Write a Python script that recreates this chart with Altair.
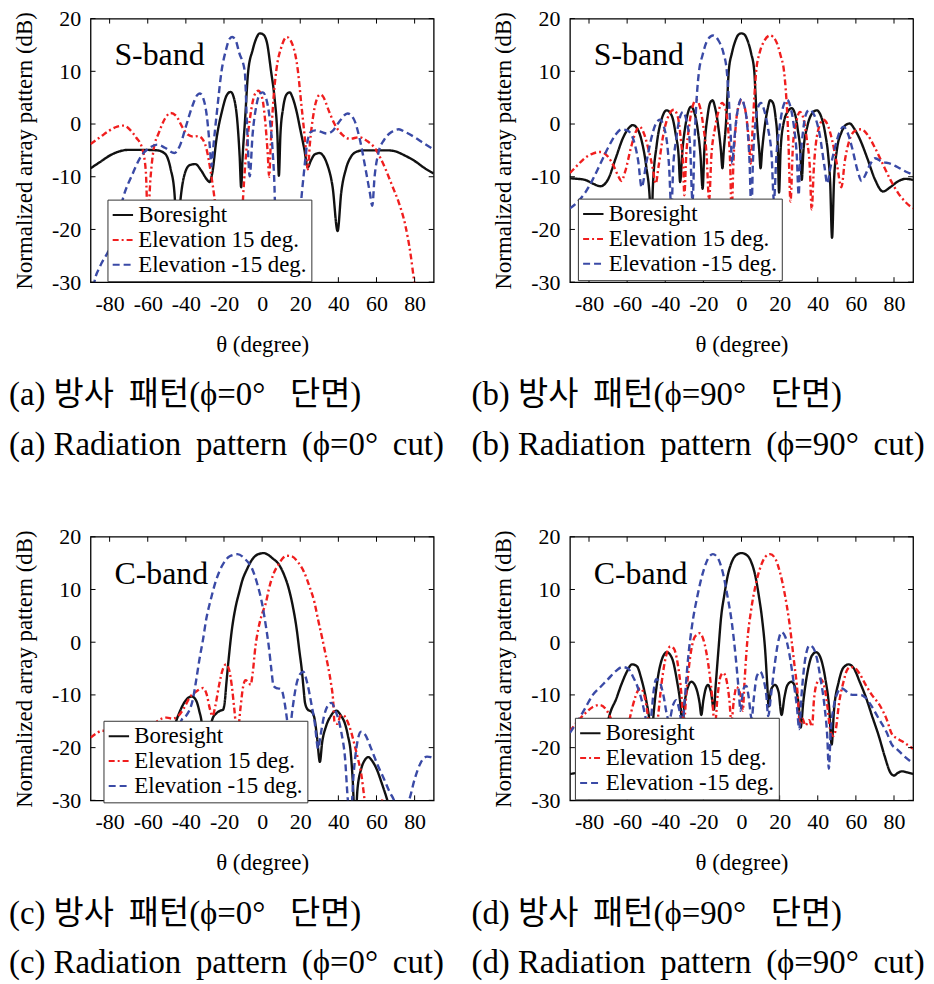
import altair as alt
import pandas as pd

SERIES = ["Boresight", "Elevation 15 deg.", "Elevation -15 deg."]
COLORS = ["#111111", "#f01e1e", "#3a4aa6"]
DASHES = [[1, 0], [6, 3, 2, 3], [7, 4]]

X_TICKS = [-80, -60, -40, -20, 0, 20, 40, 60, 80]
Y_TICKS = [-30, -20, -10, 0, 10, 20]

# ---------------- (a) S-band, phi = 0 ----------------
A_BORE = [(-90,-8.4),(-85,-7.2),(-80,-6),(-75,-5.2),(-70,-4.9),(-62,-4.9),(-55,-5),(-51,-5.6),(-48,-8.5),(-46,-13),
          (-44.5,-22),(-43,-15),(-41,-10),(-38,-7.8),(-35,-7.6),(-32,-8.8),(-29,-10.5),(-27.5,-11),(-26,-9),(-24,-3),
          (-21,2.5),(-18.5,5.5),(-16.5,6.1),(-14.5,4.5),(-13,0.5),(-11.8,-6),(-11,-12),(-10.2,-6),(-9,0.5),(-7.3,10),
          (-5,14),(-3,16.3),(-1.3,17.2),(0.5,17),(2.5,15.5),(4.7,10),(6.5,5),(8,-2),(8.8,-9.8),(9.6,-2),
          (11,3),(13,5.7),(14.5,6),(16,5),(18,2.5),(20,-1),(22,-4.5),(24,-8.2),(25.5,-7),(27.5,-5.8),
          (30,-5.5),(32,-6),(34,-7.5),(37,-12),(39.6,-20.3),(41.5,-13),(44,-8.5),(47,-6),(50,-5.2),(53,-5),
          (60,-5),(66,-5),(70,-5.2),(75,-6),(80,-7),(85,-8.3),(90,-9.4)]
A_E15 = [(-90,-3.8),(-85,-2.5),(-80,-1.2),(-76,-0.5),(-72.6,-0.3),(-69,-1.2),(-66,-2.6),(-63,-4.5),(-61,-9),(-60,-18),
         (-58.5,-10),(-57,-5),(-54,-1.5),(-51,1),(-48,2.1),(-45,1.5),(-42,-0.5),(-39,-2),(-36,-2.4),(-33.5,-2.3),
         (-31,-3),(-29,-5),(-27,-9),(-25,-14),(-23,-20),(-20,-22),(-17,-18),(-14,-22),(-11.5,-25),(-10,-14),
         (-8,-4),(-6,2),(-4,5.5),(-2,6.3),(0,5),(1.5,1),(3,-6),(3.7,-10),(4.5,-4),(6,5),
         (7.5,10.3),(10,14.5),(13,16.5),(16,15),(18.7,10.3),(20.5,4),(22.5,-3),(24,-8.6),(25,-4),(27,2),
         (29,5),(30.5,5.6),(32,5.2),(35,2.5),(38,0),(42,-2),(46,-2.8),(51,-2.5),(55,-3.2),(59.6,-4.8),
         (62,-6.4),(64.8,-8.6),(68,-11.5),(71.7,-14.9),(75,-19),(78,-25),(79.6,-29.4),(82,-35)]
A_EM15 = [(-90,-35),(-88,-30),(-85,-27),(-80,-23.5),(-76,-18.5),(-72.6,-13.6),(-68,-9.5),(-64,-6.4),(-59,-4.5),(-55,-3.9),
          (-51,-4.5),(-46,-5.5),(-43,-4),(-40,-0.5),(-37,3),(-34,5.5),(-32.6,5.8),(-31,5),(-29,1.5),(-27.5,-4),
          (-26.5,-8),(-25.5,-4),(-23.5,3),(-21.3,10),(-19,14),(-17,16.2),(-15.7,16.5),(-14,16),(-12,13.5),(-9.1,10),
          (-8,0.5),(-6.5,-9.9),(-5,-2),(-3,3.5),(-1,5.8),(0.4,6),(2,5),(4,1),(5.5,-5),(6.5,-12),
          (7.4,-25),(10,-20),(13,-17),(16,-18),(19,-22),(20.4,-15),(22,-9),(23.5,-4),(25.5,-1.5),(28,-1.2),
          (31,-1.5),(34,-1.8),(37,-1.3),(40,0.2),(44.8,2),(48,1),(51,-2.5),(54.3,-8.6),(56.5,-13),(57.8,-15.5),
          (59,-10),(61,-5.5),(64,-3),(68,-1.5),(71.7,-1),(75,-1.5),(80,-2.5),(85,-3.7),(90,-4.8)]

# ---------------- (b) S-band, phi = 90 ----------------
B_BORE = [(-90,-10.3),(-86,-10.4),(-82,-10.6),(-78,-11.3),(-74,-11.8),(-70,-10.5),(-66,-6.5),(-62,-2.5),(-59,-0.7),(-57,-0.2),
          (-55,-0.7),(-52.5,-3),(-50,-8),(-48,-15),(-47.4,-21),(-46.5,-12),(-44.5,-4),(-42,0.8),(-39.2,2.6),(-36.5,1.5),
          (-34.5,-2),(-33,-6),(-32.2,-11),(-31,-5),(-29.5,-0.5),(-27.8,2.5),(-26.5,3.3),(-25,2.5),(-23,-1),(-21.5,-6),
          (-20.4,-12.3),(-19.5,-5),(-17.8,1.5),(-16.5,4),(-15.2,4.5),(-13.8,3),(-12,-1),(-10.8,-5),(-10,-8.4),(-9.3,-5),
          (-8,1),(-7.3,6),(-6.7,10),(-5,13.5),(-3,16),(-1.5,17),(0,17.2),(1.5,17),(3,16),(5,13.5),
          (6.7,10),(7.3,6),(8,1),(9.3,-5),(10,-8.4),(10.8,-5),(12,-1),(13.8,3),(15,4.5),(16.5,4),
          (17.8,1.5),(19,-4),(19.7,-13),(20.5,-5),(22,0),(24.5,2.5),(26.3,3),(28,2),(29.5,-1),(31,-6),
          (31.6,-10.6),(32.5,-5),(34.5,-0.5),(37,2),(39.4,2.6),(42,1.2),(44,-2),(45.5,-6),(46.5,-11),(47.5,-21.6),
          (48.5,-11),(50,-5),(52.5,-1.5),(55,-0.1),(56.8,0.1),(59,-0.8),(62,-2.8),(66,-6.5),(70,-10.5),(74.2,-12.8),
          (78,-12),(82,-10.9),(86,-10.4),(90,-10.6)]
B_E15 = [(-90,-9.3),(-86,-7.8),(-82,-6.4),(-78,-5.6),(-74,-5.3),(-70,-6.2),(-67,-8),(-64.5,-10),(-63,-10.8),(-61,-9),
         (-58,-4.5),(-55.5,-1.5),(-53.5,-0.5),(-51.5,-1.5),(-49,-4.5),(-46.5,-8.5),(-45,-11.3),(-43.5,-8),(-41,-2),(-38,1.8),
         (-35.5,2.7),(-33.5,1.5),(-31.8,-3),(-30.6,-8),(-30,-13.5),(-29,-6),(-27.5,-0.5),(-25.5,3.5),(-23.9,4.6),(-22,3.5),
         (-20,-0.5),(-18.3,-6),(-17,-14.5),(-15.8,-6),(-14,-1),(-12,2.5),(-10.2,4),(-8.5,3),(-7,-1),(-6,-7),
         (-5.2,-17),(-4.2,-7),(-2.8,0.5),(-1.2,3.8),(0,4.5),(1.5,3.5),(3,0),(4,-4),(4.9,-7.5),(5.8,-1),
         (6.8,5.5),(7.7,10),(9.5,13.5),(12,15.8),(15,16.8),(18,15.8),(20.5,13),(22.3,10),(23.5,5),(24.5,-2),
         (25.7,-14.7),(27,-4),(28.8,0.5),(30.7,2.3),(32.5,1),(34.3,-3),(35.8,-8),(36.8,-16.2),(38,-8),(40,-1.5),
         (42.9,0.8),(45,0),(47.5,-3),(50,-7.5),(52.4,-12),(54.2,-7),(56.5,-3.2),(59.5,-1.3),(62.9,-1),(66,-2),
         (70,-4.5),(74,-7.5),(78,-10.5),(82,-13),(86,-14.8),(90,-16)]
B_EM15 = [(-90,-16),(-86,-14.8),(-82,-13),(-78,-10.5),(-74,-7.5),(-70,-4.5),(-66,-2),(-62.9,-1),(-59.5,-1.3),(-56.5,-3.2),
          (-54.2,-7),(-52.4,-12),(-50,-7.5),(-47.5,-3),(-45,0),(-42.9,0.8),(-40,-1.5),(-38,-8),(-36.8,-16.2),(-35.8,-8),
          (-34.3,-3),(-32.5,1),(-30.7,2.3),(-28.8,0.5),(-27,-4),(-25.7,-14.7),(-24.5,-2),(-23.5,5),(-22.3,10),(-20.5,13),
          (-18,15.8),(-15,16.8),(-12,15.8),(-9.5,13.5),(-7.7,10),(-6.8,5.5),(-5.8,-1),(-4.9,-7.5),(-4,-4),(-3,0),
          (-1.5,3.5),(0,4.8),(1.2,3.8),(2.8,0.5),(4.2,-7),(5.2,-17),(6,-7),(7,-1),(8.5,3),(10.2,4),
          (12,2.5),(14,-1),(15.8,-6),(17,-14.5),(18.3,-6),(20,-0.5),(22,3.5),(23.9,4.6),(25.5,3.5),(27.5,-0.5),
          (29,-6),(30,-13.5),(30.6,-8),(31.8,-3),(33.5,1.5),(35.5,2.7),(38,1.8),(41,-2),(43.5,-8),(45,-11.3),
          (46.5,-8.5),(49,-4.5),(51.5,-1.5),(53.5,-0.5),(55.5,-1.5),(58,-4.5),(61,-9),(63,-10.8),(64.5,-10),(67,-8),
          (70,-6.5),(74,-7.2),(78,-7.5),(82,-8.2),(86,-9),(90,-9.6)]

# ---------------- (c) C-band, phi = 0 ----------------
C_BORE = [(-90,-38),(-84,-34),(-78,-26),(-72,-20),(-66,-19),(-60,-22),(-55,-30),(-50,-22),(-46,-16),(-43,-13),
          (-40,-11),(-37,-10.3),(-35,-10.8),(-33,-13),(-31.5,-16),(-30,-25),(-28,-18),(-26,-14.5),(-24,-13.5),(-22,-13),
          (-20.5,-12.8),(-19.5,-11),(-18.8,-8),(-17.5,-3),(-16,2),(-14,6.5),(-12,9.5),(-10.4,11.7),(-8,13.8),(-5.2,15.7),
          (-2,16.7),(0.9,16.9),(3,16.6),(5.5,15.9),(8.7,14.8),(11.5,12.8),(13.8,10.4),(16,7),(18.2,2.3),(19.5,-1.5),
          (20.8,-5.2),(21.8,-9),(22.5,-11.5),(24,-12.8),(26,-13.2),(27.5,-14.5),(28.8,-18),(30.3,-22.7),(31.5,-19),(33.5,-16),
          (36,-14),(38.9,-13),(41.5,-14),(43.5,-15.5),(45,-17.7),(46.5,-21),(47.5,-26),(48.8,-35),(50,-28),(52,-24),
          (54,-22.3),(55.7,-21.8),(57.5,-22.4),(60,-24),(63,-27),(65.7,-30),(68,-33)]
C_E15 = [(-90,-18.1),(-87,-17.3),(-84,-16.8),(-80,-17),(-75,-19),(-70,-22),(-65,-21),(-60,-17.5),(-55,-15),(-50,-14.3),
         (-47,-14.5),(-44,-14),(-41,-12.5),(-38,-10.5),(-34,-9.2),(-31,-8.7),(-29,-10),(-27.5,-12.5),(-26,-14),(-24.5,-12),
         (-22.5,-8),(-20.5,-5),(-19,-4.2),(-17.5,-5),(-16,-8),(-14.5,-13),(-13,-18),(-11.5,-13),(-10,-8.5),(-8.7,-7.2),
         (-7.2,-7.6),(-6,-8.1),(-5,-6),(-3.5,-0.8),(-2,2.5),(0,5.4),(2,7.5),(3.5,10),(6,13),(8.7,14.8),
         (11,16),(13,16.4),(15.5,16.3),(19,15.1),(22,13.3),(25,10.4),(27.5,7.5),(29.4,4.2),(31.5,0.8),(33,-1.8),
         (34.6,-4.6),(36,-7.5),(37.2,-10.8),(38,-15.2),(39.5,-15.5),(41,-14),(42.4,-13.8),(44.5,-14.8),(46.7,-17),(48.5,-19.5),
         (50.2,-22),(52,-25),(53.6,-29.5),(55,-34),(57,-40),(60,-33),(62.5,-30),(64.5,-30.2),(66,-33),(70,-38)]
C_EM15 = [(-90,-40),(-80,-34),(-74,-30),(-72,-30),(-68,-26),(-64,-22),(-60,-24),(-55,-28),(-50,-30),(-48.4,-30),
          (-46,-22),(-44,-17),(-42,-14.6),(-40,-14),(-38,-12.8),(-36.3,-10.8),(-34.5,-7),(-32.9,-3.3),(-31,0.5),(-29.4,4.2),
          (-27,8),(-24.2,11.7),(-21,14.5),(-17,16.3),(-13,16.7),(-9,15.8),(-5.2,13.9),(-2.5,11),(0,7.3),(2,3),
          (3.5,-0.8),(4.8,-5),(6,-8.3),(7.5,-8.7),(9,-8.8),(10.4,-9.2),(11.8,-11.5),(13,-14.5),(13.8,-17),(14.8,-16),
          (16,-12.5),(18,-8),(20,-6),(21.6,-5.6),(23.5,-7.5),(26,-12),(27.5,-15),(29.4,-20.2),(30.5,-18),(32.5,-14),
          (34.5,-12),(36.3,-11.5),(38.5,-13),(41.5,-17),(43.5,-22),(45,-30),(46.5,-33),(48,-25),(49.5,-20),(51.9,-17),
          (54,-17.5),(57,-20),(60.6,-23.3),(64,-26),(67,-28.5),(69.2,-30),(72,-34),(75,-31),(77,-30),(80,-26),
          (83,-23),(86.5,-21.7),(88.5,-21.8),(90,-22)]

# ---------------- (d) C-band, phi = 90 ----------------
D_BORE = [(-90,-25),(-87,-24.8),(-84,-24.5),(-80,-25.3),(-77,-24),(-74.6,-22.8),(-71.5,-17),(-68.5,-13),(-66,-11),(-63,-8),
          (-60,-5.5),(-57.5,-4.2),(-55,-4.5),(-52.5,-7),(-50,-11),(-48.3,-15),(-47.3,-19.4),(-46.2,-14),(-44,-7),(-41.5,-3),
          (-39.2,-1.9),(-36.5,-3),(-34,-7),(-32,-12),(-31,-16.2),(-30,-12),(-28.5,-9),(-26.3,-7.5),(-24,-8.5),(-22,-11.5),
          (-21.1,-13.8),(-20,-11),(-18.5,-8.5),(-17.6,-8.1),(-16,-9.5),(-14.5,-12.8),(-13.5,-8),(-12,-1),(-10.8,4.4),(-9,9),
          (-7.3,12.5),(-5,15.3),(-2.5,16.6),(0,16.9),(2.5,16.6),(5,15.3),(7.3,12.5),(9,9),(10.8,4.4),(12.5,-2),
          (13.5,-8),(14.2,-12.2),(15.5,-9),(17.6,-8.1),(19.5,-9.5),(21,-13.8),(22.5,-10.5),(24,-8.2),(26.2,-7.5),(28.5,-9),
          (30,-12),(31,-16.2),(32.5,-11),(35,-5),(37,-2.5),(39.2,-1.9),(41.5,-3),(44,-7),(46,-12.5),(47.3,-19.4),
          (48.5,-13),(51,-7.5),(53.5,-4.8),(56.3,-4.2),(59,-5),(62,-7.5),(65.3,-10.5),(68.5,-14),(72.2,-18),(75,-21.5),
          (78.2,-24.8),(80,-25.3),(82,-24.8),(84.3,-24.5),(87,-24.7),(90,-25)]
D_E15 = [(-90,-16.9),(-86,-15),(-82,-13.5),(-78,-12.3),(-74.4,-11.9),(-71,-12.8),(-68,-15),(-65,-19),(-62.5,-22),(-60,-17),
         (-57,-12),(-54,-9),(-53,-8.75),(-51.5,-9.5),(-49.5,-13),(-48,-18),(-46,-22),(-44,-15),(-42,-8),(-39.5,-2.5),
         (-37.3,-0.8),(-35.5,-1.2),(-33.5,-4),(-31.5,-10),(-30.3,-16),(-29,-10),(-27,-3),(-24.5,1),(-22,1.7),(-20,0.5),
         (-17.5,-4),(-15.5,-10),(-14,-16),(-12.5,-10),(-11,-6.5),(-9.6,-5.8),(-8,-7),(-6.5,-10.5),(-5.3,-15),(-4,-11),
         (-2.6,-8.5),(-1.5,-9),(0,-11),(0.7,-13),(1.5,-8),(3,0),(5,6),(7.5,11),(10,14.3),(12.5,16.2),
         (15,16.7),(17.5,16),(20,13.5),(22.5,9.5),(25,4),(27.5,-3.5),(29.5,-10),(30.6,-15.5),(32,-14.5),(33.5,-15.8),
         (35.5,-14.8),(37,-16),(38,-11),(39.5,-7.8),(41.5,-7),(43.5,-8.5),(45,-12),(46.5,-16.5),(48,-17.8),(49.5,-16.5),
         (51,-12),(53.5,-7.5),(55.5,-5.2),(57.3,-4.7),(59.5,-4.9),(62,-6),(65,-8),(68,-9.8),(72.9,-12.2),(76,-14.5),
         (79,-17.5),(82,-18.3),(86,-19.2),(90,-20.2)]
D_EM15 = [(-90,-17.2),(-86,-15),(-82,-12.5),(-78,-10),(-74,-8.5),(-70,-7),(-66,-5.5),(-62.5,-4.7),(-59.5,-5),(-57,-6.5),
          (-54.5,-8.5),(-52,-11.5),(-50.5,-14),(-49,-17),(-47.5,-14.5),(-46,-9),(-44.8,-7),(-43,-7.5),(-41,-10),(-39,-14),
          (-38,-15),(-36,-12),(-34.3,-11),(-32.5,-13),(-31,-16),(-30,-12),(-28,-3),(-26,3),(-23,9),(-20,13.5),
          (-17,16.2),(-15,16.7),(-12.5,16),(-10,13.5),(-7.5,9),(-5,3.5),(-3,-3),(-1.5,-9),(-0.5,-13),(0.5,-10),
          (1.5,-8.5),(2.6,-8.3),(3.8,-10.5),(5.3,-14.5),(6.5,-10.5),(8,-6.5),(9.8,-5.6),(11.5,-7),(13,-10),(14,-14),
          (15.5,-10),(17.5,-4),(19.5,0.5),(21,1.9),(23,1),(25,-2),(27.5,-8),(29,-12),(30.3,-16.5),(31.5,-10),
          (33.5,-3),(35.7,-0.6),(37.5,-1),(39.5,-3),(41.5,-7),(43.5,-12),(45,-18),(45.8,-24),(46.8,-17),(48.5,-12),
          (50.5,-9.5),(52.1,-8.7),(54,-9),(56.5,-9.8),(59,-10),(62.5,-10),(65,-10.5),(68,-12),(72,-14.5),(76,-17),
          (79,-19.5),(81.5,-20.3),(85,-21.5),(90,-23)]

BANDS = ["S-band", "S-band", "C-band", "C-band"]
CAPTIONS = [
    ["(a) 방사\u2009 패턴(ϕ=0°\u2002 단면)", "(a) Radiation\u2009 pattern\u2009 (ϕ=0°\u2009 cut)"],
    ["(b) 방사\u2009 패턴(ϕ=90°\u2002 단면)", "(b) Radiation\u2009 pattern\u2009 (ϕ=90°\u2009 cut)"],
    ["(c) 방사\u2009 패턴(ϕ=0°\u2002 단면)", "(c) Radiation\u2009 pattern\u2009 (ϕ=0°\u2009 cut)"],
    ["(d) 방사\u2009 패턴(ϕ=90°\u2002 단면)", "(d) Radiation\u2009 pattern\u2009 (ϕ=90°\u2009 cut)"],
]

FONT = "Liberation Serif"
CAP_FONT = "Liberation Serif, Noto Sans CJK KR"
W, H = 345, 265

X_SCALE = alt.Scale(domain=[-90, 90], nice=False, zero=False)
Y_SCALE = alt.Scale(domain=[-30, 20], nice=False, zero=False)
X_AXIS = alt.Axis(values=X_TICKS, title="θ (degree)", labelPadding=11, titlePadding=20,
                  labelExpr="'' + datum.value", grid=False, domain=False, ticks=False,
                  labelFont=FONT, titleFont=FONT, labelFontSize=22, titleFontSize=23)
Y_AXIS = alt.Axis(values=Y_TICKS, title="Normalized array pattern (dB)", labelPadding=10,
                  titlePadding=15, labelExpr="'' + datum.value", grid=False, domain=False,
                  ticks=False, labelFont=FONT, titleFont=FONT, labelFontSize=22, titleFontSize=23)


def to_df(curves):
    frames = []
    for name, pts in zip(SERIES, curves):
        frames.append(pd.DataFrame({"theta": [p[0] for p in pts],
                                    "dB": [p[1] for p in pts],
                                    "series": name,
                                    "k": list(range(len(pts)))}))
    return pd.concat(frames, ignore_index=True)


def panel(curves, band, caption, dx, lx, ly):
    leg = alt.Legend(orient="none", legendX=lx, legendY=ly, title=None,
                     fillColor="white", strokeColor="#333333", padding=4,
                     labelFont=FONT, labelFontSize=23, labelColor="black",
                     labelLimit=400, labelOffset=4, rowPadding=1,
                     symbolType="stroke", symbolSize=420, symbolStrokeWidth=2,
                     zindex=1)
    lines = alt.Chart(to_df(curves)).mark_line(
        clip=True, strokeWidth=2.4, interpolate="monotone").encode(
        x=alt.X("theta:Q", scale=X_SCALE, axis=X_AXIS),
        y=alt.Y("dB:Q", scale=Y_SCALE, axis=Y_AXIS),
        color=alt.Color("series:N", scale=alt.Scale(domain=SERIES, range=COLORS), legend=leg),
        strokeDash=alt.StrokeDash("series:N", scale=alt.Scale(domain=SERIES, range=DASHES), legend=leg),
        order="k:Q",
    )
    ydf = pd.DataFrame({"theta": [0] * len(Y_TICKS), "dB": Y_TICKS})
    xdf = pd.DataFrame({"theta": X_TICKS, "dB": [0] * len(X_TICKS)})
    rl = alt.Chart(ydf).mark_rule(color="black", strokeWidth=1)
    t_left = rl.encode(y=alt.Y("dB:Q", scale=Y_SCALE, axis=Y_AXIS), x=alt.value(0), x2=alt.value(5))
    t_right = rl.encode(y=alt.Y("dB:Q", scale=Y_SCALE, axis=Y_AXIS), x=alt.value(W - 5), x2=alt.value(W))
    rb = alt.Chart(xdf).mark_rule(color="black", strokeWidth=1)
    t_bot = rb.encode(x=alt.X("theta:Q", scale=X_SCALE, axis=X_AXIS), y=alt.value(H - 5), y2=alt.value(H))
    t_top = rb.encode(x=alt.X("theta:Q", scale=X_SCALE, axis=X_AXIS), y=alt.value(0), y2=alt.value(5))
    txt = alt.Chart(pd.DataFrame({"label": [band]})).mark_text(
        align="left", baseline="alphabetic", font=FONT, fontSize=32, color="black").encode(
        text="label:N", x=alt.value(24), y=alt.value(47))
    return alt.layer(lines, t_left, t_right, t_bot, t_top, txt).properties(
        width=W, height=H,
        title=alt.TitleParams(text=caption, orient="bottom", anchor="start", frame="group",
                              dx=dx, offset=23, fontSize=33, font=CAP_FONT,
                              fontWeight="normal", lineHeight=50, baseline="top",
                              color="black"))


pa = panel([A_BORE, A_E15, A_EM15], BANDS[0], CAPTIONS[0], -82, 17, 182)
pb = panel([B_BORE, B_E15, B_EM15], BANDS[1], CAPTIONS[1], -99, 8, 181)
pc = panel([C_BORE, C_E15, C_EM15], BANDS[2], CAPTIONS[2], -82, 13, 185)
pd_ = panel([D_BORE, D_E15, D_EM15], BANDS[3], CAPTIONS[3], -99, 5, 182)

chart = alt.concat(pa, pb, pc, pd_, columns=2,
                   spacing={"row": 256, "column": 137}, bounds="flush").resolve_scale(
    color="independent", strokeDash="independent").resolve_legend(
    color="independent", strokeDash="independent").properties(
    padding={"top": -4, "left": 0, "right": 0, "bottom": 0}
).configure(font=FONT).configure_view(stroke="black", strokeWidth=1.3).configure_axis(
    grid=False, domain=False, ticks=False, tickSize=0,
    labelFont=FONT, titleFont=FONT, labelFontSize=22, titleFontSize=23,
    labelColor="black", titleColor="black", titleFontWeight="normal").configure_legend(
    labelFont=FONT)

chart.save("out.html", embed_options={"renderer": "svg", "actions": False})
